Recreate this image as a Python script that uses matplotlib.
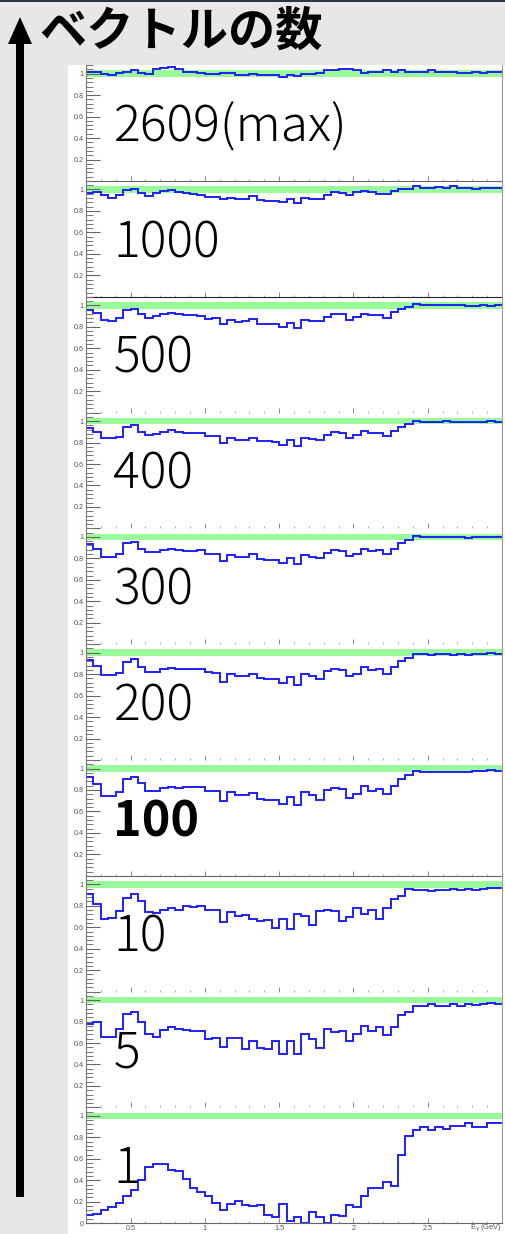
import numpy as np
import matplotlib
matplotlib.use('Agg')
import matplotlib.pyplot as plt
from matplotlib.patches import Rectangle, Polygon
from matplotlib.ticker import MultipleLocator, FixedLocator, FuncFormatter

plt.rcParams['font.family'] = ['Liberation Sans', 'DejaVu Sans']

# photon energy bins (GeV), 56 bins of 0.05
edges = np.linspace(0.2, 3.0, 57)

vec_labels = ['2609(max)', '1000', '500', '400', '300', '200', '100', '10', '5', '1']

eff_2609 = [1.015, 1.02, 1.0, 0.985, 1.01, 1.02, 1.03, 1.01, 1.0, 1.04,
            1.055, 1.06, 1.04, 1.02, 1.015, 1.01, 1.0, 1.0, 1.01, 1.01,
            0.99, 0.99, 1.0, 0.985, 0.985, 0.985, 0.97, 0.99, 0.98, 1.0,
            1.0, 1.01, 1.03, 1.03, 1.045, 1.04, 1.03, 1.01, 1.02, 1.015,
            1.03, 1.02, 1.03, 1.02, 1.02, 1.015, 1.03, 1.015, 1.015, 1.02,
            1.01, 1.01, 1.02, 1.01, 1.015, 1.02]
eff_1000 = [0.97, 0.975, 0.945, 0.92, 0.945, 0.995, 1.005, 0.965, 0.94, 0.965,
            0.99, 0.995, 0.98, 0.97, 0.955, 0.945, 0.93, 0.93, 0.915, 0.92,
            0.915, 0.915, 0.94, 0.90, 0.895, 0.895, 0.885, 0.915, 0.875, 0.925,
            0.915, 0.915, 0.945, 0.975, 0.97, 0.945, 0.98, 0.985, 0.975, 0.96,
            0.955, 0.985, 1.0, 1.005, 1.03, 1.015, 1.015, 1.02, 1.015, 1.03,
            1.01, 1.01, 1.0, 1.015, 1.015, 1.01]
eff_500 = [0.955, 0.93, 0.865, 0.855, 0.88, 0.96, 0.965, 0.92, 0.885, 0.90,
           0.92, 0.93, 0.915, 0.91, 0.905, 0.90, 0.875, 0.88, 0.825, 0.86,
           0.845, 0.85, 0.875, 0.83, 0.825, 0.825, 0.80, 0.835, 0.79, 0.865,
           0.855, 0.85, 0.89, 0.92, 0.915, 0.865, 0.89, 0.92, 0.905, 0.905,
           0.885, 0.94, 0.965, 0.98, 1.01, 1.0, 1.0, 1.0, 1.005, 1.0,
           1.0, 0.99, 0.995, 1.0, 0.995, 1.0]
eff_400 = [0.94, 0.90, 0.84, 0.84, 0.855, 0.945, 0.96, 0.90, 0.875, 0.88,
           0.90, 0.915, 0.90, 0.89, 0.89, 0.885, 0.86, 0.86, 0.80, 0.845,
           0.825, 0.825, 0.845, 0.815, 0.81, 0.805, 0.78, 0.82, 0.765, 0.845,
           0.83, 0.825, 0.875, 0.90, 0.89, 0.845, 0.875, 0.905, 0.89, 0.89,
           0.86, 0.905, 0.945, 0.97, 1.005, 0.995, 0.995, 0.99, 1.0, 0.99,
           0.99, 0.99, 0.995, 0.995, 1.0, 0.99]
eff_300 = [0.935, 0.89, 0.815, 0.815, 0.84, 0.94, 0.955, 0.89, 0.855, 0.86,
           0.875, 0.89, 0.875, 0.87, 0.87, 0.875, 0.845, 0.84, 0.775, 0.83,
           0.81, 0.81, 0.84, 0.79, 0.785, 0.785, 0.76, 0.80, 0.745, 0.835,
           0.815, 0.80, 0.85, 0.875, 0.865, 0.825, 0.84, 0.89, 0.865, 0.875,
           0.84, 0.89, 0.945, 0.97, 1.005, 0.995, 0.995, 0.995, 1.0, 0.995,
           0.995, 0.99, 0.995, 0.995, 1.0, 0.995]
eff_200 = [0.93, 0.875, 0.79, 0.79, 0.815, 0.915, 0.94, 0.87, 0.82, 0.82,
           0.845, 0.86, 0.845, 0.85, 0.85, 0.85, 0.82, 0.815, 0.73, 0.805,
           0.785, 0.785, 0.805, 0.76, 0.755, 0.755, 0.715, 0.77, 0.70, 0.805,
           0.785, 0.755, 0.83, 0.85, 0.84, 0.785, 0.805, 0.87, 0.835, 0.845,
           0.805, 0.87, 0.925, 0.955, 0.99, 0.985, 0.98, 0.985, 0.99, 0.98,
           0.985, 0.98, 0.985, 0.99, 0.995, 0.985]
eff_100 = [0.92, 0.86, 0.745, 0.745, 0.785, 0.90, 0.92, 0.865, 0.79, 0.79,
           0.815, 0.825, 0.815, 0.825, 0.825, 0.825, 0.79, 0.79, 0.695, 0.78,
           0.75, 0.75, 0.775, 0.72, 0.71, 0.71, 0.665, 0.735, 0.66, 0.78,
           0.75, 0.71, 0.795, 0.815, 0.805, 0.725, 0.765, 0.835, 0.79, 0.81,
           0.765, 0.835, 0.905, 0.935, 0.975, 0.97, 0.97, 0.97, 0.97, 0.965,
           0.97, 0.97, 0.975, 0.975, 0.985, 0.98]
eff_10 = [0.91, 0.82, 0.68, 0.69, 0.75, 0.875, 0.905, 0.845, 0.745, 0.735,
          0.765, 0.775, 0.765, 0.795, 0.79, 0.80, 0.76, 0.76, 0.65, 0.74,
          0.705, 0.715, 0.68, 0.66, 0.665, 0.59, 0.68, 0.585, 0.725, 0.705,
          0.625, 0.75, 0.76, 0.75, 0.66, 0.695, 0.78, 0.72, 0.76, 0.68,
          0.775, 0.865, 0.895, 0.96, 0.945, 0.945, 0.94, 0.95, 0.95, 0.955,
          0.95, 0.955, 0.95, 0.96, 0.97, 0.97]
eff_5 = [0.78, 0.80, 0.655, 0.655, 0.735, 0.87, 0.885, 0.80, 0.68, 0.66,
         0.72, 0.745, 0.735, 0.725, 0.71, 0.715, 0.635, 0.65, 0.565, 0.65,
         0.645, 0.545, 0.62, 0.55, 0.545, 0.62, 0.495, 0.62, 0.495, 0.68,
         0.635, 0.555, 0.73, 0.70, 0.71, 0.62, 0.68, 0.76, 0.715, 0.75,
         0.675, 0.75, 0.86, 0.89, 0.945, 0.945, 0.96, 0.945, 0.945, 0.96,
         0.945, 0.96, 0.955, 0.96, 0.975, 0.965]
eff_1 = [0.08, 0.09, 0.12, 0.155, 0.19, 0.25, 0.31, 0.40, 0.52, 0.55,
         0.55, 0.50, 0.49, 0.41, 0.33, 0.29, 0.25, 0.19, 0.12, 0.18,
         0.21, 0.17, 0.16, 0.17, 0.08, 0.06, 0.18, 0.02, 0.06, 0.0,
         0.10, 0.055, 0.0, 0.08, 0.07, 0.17, 0.15, 0.255, 0.325, 0.33,
         0.38, 0.35, 0.64, 0.81, 0.87, 0.90, 0.87, 0.90, 0.88, 0.91,
         0.91, 0.93, 0.90, 0.90, 0.93, 0.935]

curves = [eff_2609, eff_1000, eff_500, eff_400, eff_300,
          eff_200, eff_100, eff_10, eff_5, eff_1]

W, H = 505, 1234
fig = plt.figure(figsize=(W / 100, H / 100), dpi=100, facecolor='#e8e6e8')

# background layer in pixel coordinates
bg = fig.add_axes([0, 0, 1, 1])
bg.set_xlim(0, W)
bg.set_ylim(H, 0)
bg.axis('off')
bg.add_patch(Rectangle((68, 65), W - 68, H - 65, color='white', lw=0))
bg.add_patch(Rectangle((0, 0), W, 2, color='#2d3442', lw=0))
bg.add_patch(Rectangle((16, 40), 8, 1157, color='black', lw=0))
bg.add_patch(Polygon([(20, 17), (8, 44), (32, 44)], closed=True, color='black', lw=0))
bg.text(39, 32, 'ベクトルの数', fontsize=34, fontweight='bold',
        family=['Noto Sans CJK JP', 'DejaVu Sans'], va='center', ha='left')
bg.text(470, 1228, r'E$_{\gamma}$ (GeV)', fontsize=5.4, color='#555',
        va='center', ha='left')

unit = 107.3   # pixels per efficiency unit
ph = 116       # panel height in pixels
n = len(curves)
for k, (lab, vals) in enumerate(zip(vec_labels, curves)):
    last = (k == n - 1)
    bot = 181 + 115.8 * k
    ax = fig.add_axes([86 / W, 1 - bot / H, 416 / W, ph / H])
    ax.set_facecolor('none')
    ax.set_xlim(0.2, 3.0)
    ax.set_ylim(0, ph / unit)

    ax.axhspan(0.97, 1.03, color='#9af99a', lw=0, zorder=1)
    ax.stairs(vals, edges, baseline=None, color='#1f1fff', lw=1.4, zorder=2)

    bold = (lab == '100')
    ax.text(0.385, 0.37, lab, fontsize=35 if bold else 36,
            family=['Noto Sans CJK JP', 'DejaVu Sans'],
            fontweight='bold' if bold else 'light',
            va='baseline', ha='left', zorder=3)

    ax.spines['top'].set_visible(False)
    ax.spines['left'].set_color('#777')
    ax.spines['right'].set_color('#999')
    for s in ('left', 'right', 'bottom'):
        ax.spines[s].set_linewidth(0.8)
    if k in (0, 1, 6, 9):
        ax.spines['bottom'].set_color('#666' if k != 1 else '#222')
    else:
        ax.spines['bottom'].set_visible(False)

    ax.yaxis.set_major_locator(FixedLocator([0, 0.2, 0.4, 0.6, 0.8, 1.0]))
    ax.yaxis.set_minor_locator(MultipleLocator(0.04))
    ax.yaxis.set_major_formatter(FuncFormatter(
        lambda v, p, last=last: '' if (v == 0 and not last) else f'{v:g}'))
    ax.xaxis.set_major_locator(MultipleLocator(0.5))
    ax.xaxis.set_minor_locator(MultipleLocator(0.1))
    ax.xaxis.set_major_formatter(FuncFormatter(
        lambda v, p: '' if v > 2.9 else f'{v:g}'))

    ax.tick_params(axis='y', which='major', direction='in', length=10, width=0.8,
                   color='#666', labelsize=5.2, labelcolor='#555', pad=1.5,
                   right=False)
    ax.tick_params(axis='y', which='minor', direction='in', length=5, width=0.7,
                   color='#777', right=False)
    ax.tick_params(axis='x', which='major', direction='in', length=3.5, width=0.6,
                   color='#777', labelsize=5.2, labelcolor='#555', pad=1,
                   top=False, labelbottom=last)
    ax.tick_params(axis='x', which='minor', direction='in', length=1.8, width=0.5,
                   color='#888', top=False)

fig.savefig('out.png', dpi=100)
